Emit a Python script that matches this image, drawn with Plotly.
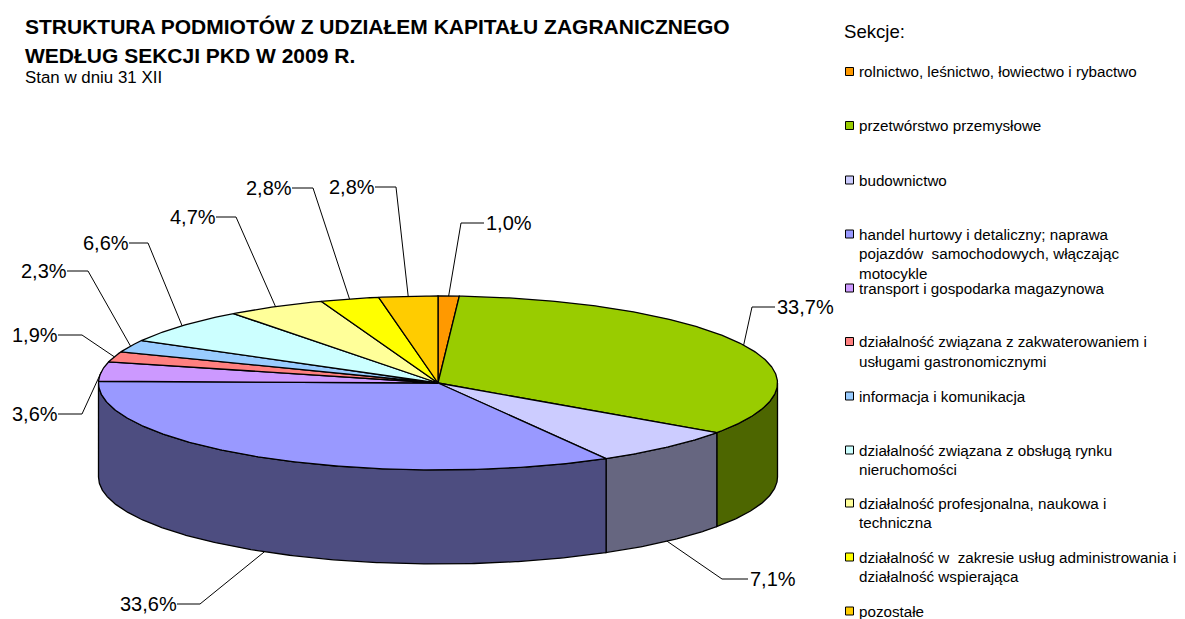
import math
import plotly.graph_objects as go

# ---- data ----
categories = [
    "rolnictwo, leśnictwo, łowiectwo i rybactwo",
    "przetwórstwo przemysłowe",
    "budownictwo",
    "handel hurtowy i detaliczny; naprawa|pojazdów  samochodowych, włączając|motocykle",
    "transport i gospodarka magazynowa",
    "działalność związana z zakwaterowaniem i|usługami gastronomicznymi",
    "informacja i komunikacja",
    "działalność związana z obsługą rynku|nieruchomości",
    "działalność profesjonalna, naukowa i|techniczna",
    "działalność w  zakresie usług administrowania i|działalność wspierająca",
    "pozostałe",
]
values = [1.0, 33.7, 7.1, 33.6, 3.6, 1.9, 2.3, 6.6, 4.7, 2.8, 2.8]
value_labels = ["1,0%", "33,7%", "7,1%", "33,6%", "3,6%", "1,9%", "2,3%", "6,6%", "4,7%", "2,8%", "2,8%"]

# ---- styles / layout ----
top_colors = ["#FF9900", "#99CC00", "#CCCCFF", "#9999FF", "#CC99FF", "#FF8080",
              "#99CCFF", "#CCFFFF", "#FFFF99", "#FFFF00", "#FFCC00"]
side_colors = ["#805000", "#4D6600", "#666680", "#4D4D80", "#664D80", "#804040",
               "#4D6680", "#668080", "#80804D", "#808000", "#806600"]
CX, CY, RX, RY, DEPTH = 438.0, 383.0, 339.5, 87.0, 94.0
FONT = "Liberation Sans"
# elbow of each leader, and which side its label sits on
elbows = [(461, 223), (752, 307), (722, 579), (200, 604), (82, 414), (82, 335),
          (88, 271), (148, 243), (236, 217), (313, 188), (396, 187)]
label_ends = [(484, 223), (775, 307), (748, 579), (177, 604), (58, 414), (58, 335),
              (67, 271), (129, 243), (216, 217), (292, 188), (375, 187)]
legend_y = [71.5, 125.5, 180, 234, 288, 341.5, 396, 450, 503, 557, 611]
LEG_X, LEG_TX, LEG_LH, LEG_SIZE = 849.5, 857, 19.6, 15.2


def pt(a, dz=0.0):
    r = math.radians(a)
    return CX + RX * math.sin(r), CY - RY * math.cos(r) + dz


def arc(a0, a1, dz=0.0):
    n = max(2, int(abs(a1 - a0) * 2))
    return [pt(a0 + (a1 - a0) * i / n, dz) for i in range(n + 1)]


total = sum(values)
bounds = [0.0]
for v in values:
    bounds.append(bounds[-1] + v / total * 360)

fig = go.Figure()


def poly(points, fill, name):
    xs = [p[0] for p in points] + [points[0][0]]
    ys = [p[1] for p in points] + [points[0][1]]
    fig.add_trace(go.Scatter(x=xs, y=ys, mode="lines", fill="toself", fillcolor=fill,
                             line=dict(color="black", width=1.3), name=name,
                             hoverinfo="skip", showlegend=False))


# sides (only the part facing the viewer, 90..270 degrees)
for i, v in enumerate(values):
    a0, a1 = max(bounds[i], 90), min(bounds[i + 1], 270)
    if a1 > a0:
        poly(arc(a0, a1) + arc(a1, a0, DEPTH), side_colors[i], categories[i])

# top face
for i, v in enumerate(values):
    poly([(CX, CY)] + arc(bounds[i], bounds[i + 1]), top_colors[i], categories[i])

annotations = []


def text(x, y, s, size, anchor="left", bold=False):
    annotations.append(dict(x=x, y=y, xref="x", yref="y", text=f"<b>{s}</b>" if bold else s,
                            showarrow=False, xanchor=anchor, yanchor="middle", align=anchor,
                            xshift=0, font=dict(family=FONT, size=size, color="black")))


# leaders and value labels
for i, v in enumerate(values):
    mid = (bounds[i] + bounds[i + 1]) / 2
    edge = pt(mid, DEPTH if 90 < mid < 270 else 0)
    ex, ey = elbows[i]
    lx, ly = label_ends[i]
    fig.add_trace(go.Scatter(x=[edge[0], ex, lx], y=[edge[1], ey, ly], mode="lines",
                             line=dict(color="black", width=1), hoverinfo="skip", showlegend=False))
    text(lx + (0 if lx > ex else 2), ly, value_labels[i], 20, "left" if lx > ex else "right")

# legend
fig.add_trace(go.Scatter(x=[LEG_X] * len(values), y=legend_y, mode="markers",
                         marker=dict(symbol="square", size=8, color=top_colors,
                                     line=dict(color="black", width=1)),
                         hoverinfo="skip", showlegend=False))
for i, c in enumerate(categories):
    for j, line in enumerate(c.split("|")):
        text(LEG_TX, legend_y[i] + j * LEG_LH, line, LEG_SIZE)

# titles
text(23, 26, "STRUKTURA PODMIOTÓW Z UDZIAŁEM KAPITAŁU ZAGRANICZNEGO", 21, bold=True)
text(23, 55, "WEDŁUG SEKCJI PKD W 2009 R.", 21, bold=True)
text(23, 77, "Stan w dniu 31 XII", 16.9)
text(842, 31, "Sekcje:", 18.6)

fig.update_layout(
    width=1185, height=619, margin=dict(l=0, r=0, t=0, b=0),
    paper_bgcolor="white", plot_bgcolor="white", showlegend=False,
    xaxis=dict(range=[0, 1185], visible=False, fixedrange=True),
    yaxis=dict(range=[619, 0], visible=False, fixedrange=True),
    annotations=annotations,
)
fig.write_html("out.html", post_script="document.body.style.margin='0';document.body.style.overflow='hidden';",
               config={"displayModeBar": False})
